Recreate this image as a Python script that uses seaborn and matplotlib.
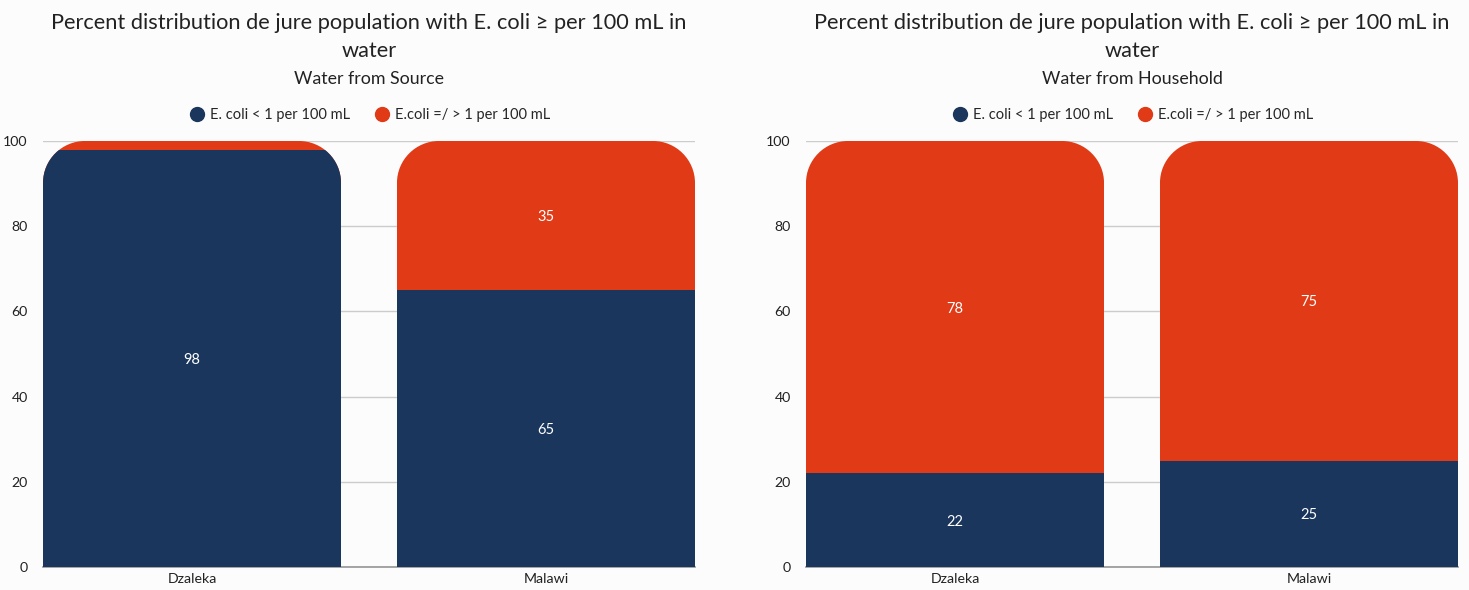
import numpy as np
import pandas as pd
import seaborn as sns
import matplotlib.pyplot as plt
from matplotlib.path import Path
from matplotlib.lines import Line2D

# Aesthetics
sns.set_theme(style="white")
plt.rcParams['font.family'] = ['Lato', 'DejaVu Sans']

# Data
places = ["Dzaleka", "Malawi"]
source_low = [98, 65]      # E. coli < 1 per 100 mL
source_high = [2, 35]      # E.coli =/> 1 per 100 mL
household_low = [22, 25]
household_high = [78, 75]

title = "Percent distribution de jure population with E. coli \u2265 per 100 mL in\nwater"
subtitles = ["Water from Source", "Water from Household"]
legend_labels = ["E. coli < 1 per 100 mL", "E.coli =/ > 1 per 100 mL"]

navy = "#1a365d"
orange = "#e03a16"
bg = "#fcfcfc"
bar_w = 0.842
radius_px = 42

fig = plt.figure(figsize=(14.69, 5.90), dpi=100, facecolor=bg)
ax1 = fig.add_axes([43 / 1469, 23 / 590, 652 / 1469, 426 / 590])
ax2 = fig.add_axes([806 / 1469, 23 / 590, 652 / 1469, 426 / 590])


def rounded_top(x0, x1, top, rx, ry):
    k = 0.5523
    verts = [(x0, 0), (x0, top - ry),
             (x0, top - ry + k * ry), (x0 + rx - k * rx, top), (x0 + rx, top),
             (x1 - rx, top),
             (x1 - rx + k * rx, top), (x1, top - ry + k * ry), (x1, top - ry),
             (x1, 0), (x0, 0)]
    codes = [Path.MOVETO, Path.LINETO,
             Path.CURVE4, Path.CURVE4, Path.CURVE4,
             Path.LINETO,
             Path.CURVE4, Path.CURVE4, Path.CURVE4,
             Path.LINETO, Path.CLOSEPOLY]
    return Path(verts, codes)


def draw_panel(ax, low, high, subtitle):
    ax.set_facecolor(bg)
    df = pd.DataFrame({"place": places, "low": low,
                       "total": [a + b for a, b in zip(low, high)]})
    sns.barplot(data=df, x="place", y="total", color=orange, width=bar_w,
                saturation=1, ax=ax, zorder=2)
    sns.barplot(data=df, x="place", y="low", color=navy, width=bar_w,
                saturation=1, ax=ax, zorder=3)
    ax.set_xlim(-bar_w / 2, 1 + bar_w / 2)
    ax.set_ylim(0, 100)

    # rounded tops
    rx = radius_px / (652 / (1 + bar_w))
    ry = radius_px / 4.26
    for p in ax.patches:
        x0 = p.get_x()
        x1 = x0 + p.get_width()
        p.set_clip_path(rounded_top(x0, x1, 100, rx, ry), ax.transData)
        p.set_edgecolor("none")

    # value labels
    for i in range(len(places)):
        ax.text(i, low[i] / 2, str(low[i]), color="white", ha="center",
                va="center_baseline", fontsize=10.5, zorder=5)
        if high[i] >= 5:
            ax.text(i, low[i] + high[i] / 2, str(high[i]), color="white",
                    ha="center", va="center_baseline", fontsize=10.5, zorder=5)

    ax.set_yticks([0, 20, 40, 60, 80, 100])
    ax.yaxis.grid(True, color="#cccccc", linewidth=1)
    ax.set_axisbelow(True)
    for s in ["top", "right", "left"]:
        ax.spines[s].set_visible(False)
    ax.spines["bottom"].set_color("#999999")
    ax.tick_params(axis="both", length=0, labelsize=10.2, colors="#222222")
    ax.tick_params(axis="y", pad=11)
    ax.tick_params(axis="x", pad=4)
    ax.set_xlabel("")
    ax.set_ylabel("")

    ax.text(0.5, 1.244, title, transform=ax.transAxes, ha="center",
            va="center", fontsize=15.7, color="#222222", linespacing=1.45)
    ax.text(0.5, 1.150, subtitle, transform=ax.transAxes, ha="center",
            va="center_baseline", fontsize=12.8, color="#222222")

    handles = [Line2D([], [], marker="o", linestyle="none", markersize=10,
                      markerfacecolor=c, markeredgecolor=c)
               for c in [navy, orange]]
    ax.legend(handles, legend_labels, loc="center", bbox_to_anchor=(0.5, 1.061),
              ncol=2, frameon=False, fontsize=10.5, handletextpad=0.3,
              columnspacing=1.6, handlelength=1.2)


draw_panel(ax1, source_low, source_high, subtitles[0])
draw_panel(ax2, household_low, household_high, subtitles[1])

fig.savefig("out.png", dpi=100, facecolor=bg)
